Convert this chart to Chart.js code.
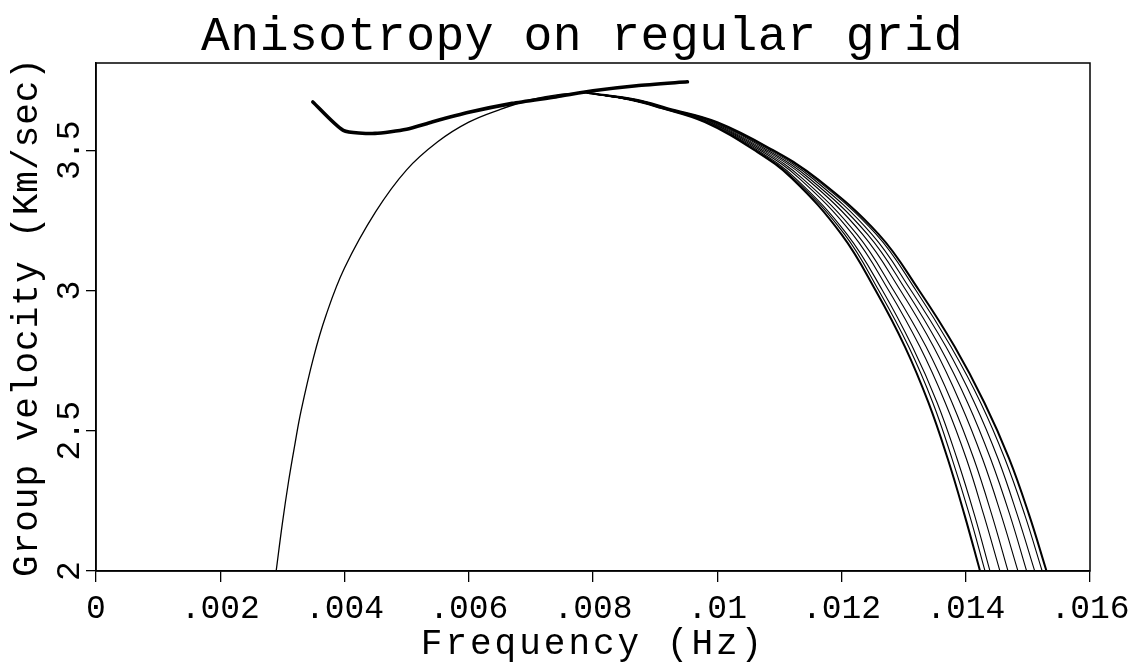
<!DOCTYPE html>
<html>
<head>
<meta charset="utf-8">
<title>Anisotropy on regular grid</title>
<script src="https://cdn.jsdelivr.net/npm/chart.js@4.4.0/dist/chart.umd.min.js"></script>
<style>
  html, body { margin: 0; padding: 0; background: #fff; }
  #wrap { width: 1132px; height: 666px; position: relative; }
</style>
</head>
<body>
<div id="wrap"><canvas id="chartjs"></canvas></div>
<script>
const ctx = document.getElementById("chartjs");

// axis ticks
const xTicks = [0, 0.002, 0.004, 0.006, 0.008, 0.010, 0.012, 0.014, 0.016];
const xTickLabels = ["0", ".002", ".004", ".006", ".008", ".01", ".012", ".014", ".016"];
const yTicks = [2, 2.5, 3, 3.5];
const yTickLabels = ["2", "2.5", "3", "3.5"];

// rising branch shared by all curves (frequency Hz, group velocity km/s)
const riseFreq = [0.0029, 0.0030, 0.0031, 0.0032, 0.0033, 0.0035, 0.0037, 0.0040, 0.0045, 0.0050, 0.0055, 0.0060, 0.0065, 0.0070, 0.0075, 0.0079];
const riseVel = [2.00, 2.17, 2.32, 2.45, 2.57, 2.76, 2.91, 3.08, 3.28, 3.43, 3.53, 3.60, 3.645, 3.68, 3.70, 3.705];

// falling branches: frequency at which each curve reaches these velocities
const fallVel = [3.705, 3.68, 3.65, 3.60, 3.50, 3.40, 3.20, 3.00, 2.80, 2.60, 2.40, 2.20, 2.00];
const fallFreq0 = [0.0079, 0.0086, 0.0091, 0.0098, 0.0106, 0.0112, 0.0120, 0.01255, 0.01302, 0.01340, 0.01371, 0.01398, 0.01423];
const fallFreq1 = [0.0079, 0.0086, 0.0091, 0.00982, 0.01062, 0.01123, 0.01205, 0.01260, 0.01308, 0.01347, 0.01378, 0.01406, 0.01431];
const fallFreq2 = [0.0079, 0.0086, 0.00912, 0.00983, 0.01065, 0.01126, 0.01209, 0.01266, 0.01314, 0.01354, 0.01386, 0.01414, 0.01439];
const fallFreq3 = [0.0079, 0.0086, 0.00913, 0.00986, 0.01069, 0.01132, 0.01218, 0.01276, 0.01326, 0.01367, 0.01401, 0.01429, 0.01455];
const fallFreq4 = [0.0079, 0.0086, 0.00914, 0.00988, 0.01073, 0.01137, 0.01225, 0.01284, 0.01336, 0.01378, 0.01413, 0.01442, 0.01468];
const fallFreq5 = [0.0079, 0.0086, 0.00916, 0.00991, 0.01077, 0.01143, 0.01234, 0.01295, 0.01348, 0.01391, 0.01427, 0.01457, 0.01484];
const fallFreq6 = [0.0079, 0.0087, 0.00917, 0.00994, 0.01081, 0.01148, 0.01242, 0.01304, 0.01358, 0.01403, 0.01440, 0.01471, 0.01498];
const fallFreq7 = [0.0079, 0.0087, 0.00918, 0.00996, 0.01085, 0.01153, 0.01249, 0.01312, 0.01368, 0.01414, 0.01452, 0.01483, 0.01511];
const fallFreq8 = [0.0079, 0.0087, 0.00919, 0.00999, 0.01088, 0.01157, 0.01256, 0.01320, 0.01376, 0.01424, 0.01463, 0.01495, 0.01523];
const fallFreq9 = [0.0079, 0.0087, 0.0092, 0.0100, 0.0109, 0.0116, 0.0126, 0.01325, 0.01382, 0.01430, 0.01470, 0.01502, 0.0153];

// measured curve (thick line)
const obsFreq = [0.00349, 0.00398, 0.00449, 0.0050, 0.0054, 0.0060, 0.0067, 0.0074, 0.0080, 0.0087, 0.00952];
const obsVel = [3.672, 3.571, 3.560, 3.575, 3.60, 3.635, 3.667, 3.69, 3.712, 3.73, 3.744];

const FONT = '"Liberation Mono", "DejaVu Sans Mono", monospace';

function pts(xs, ys) {
    return xs.map((x, i) => ({ x: x, y: ys[i] }));
}

const fallSets = [fallFreq0, fallFreq1, fallFreq2, fallFreq3, fallFreq4, fallFreq5, fallFreq6, fallFreq7, fallFreq8, fallFreq9];

const datasets = [{
    data: pts(riseFreq, riseVel),
    borderColor: '#000',
    borderWidth: 1.3,
    pointRadius: 0,
    tension: 0.4
}];
fallSets.forEach((f, i) => {
    datasets.push({
        data: pts(f, fallVel),
        borderColor: '#000',
        borderWidth: (i === 0 || i === fallSets.length - 1) ? 2 : 1.1,
        pointRadius: 0,
        tension: 0.4
    });
});
datasets.push({
    data: pts(obsFreq, obsVel),
    borderColor: '#000',
    borderWidth: 3.6,
    pointRadius: 0,
    tension: 0.2,
    borderJoinStyle: 'round',
    borderCapStyle: 'round'
});

// title, axis titles, rotated y tick labels and the closed frame
const extras = {
    id: 'extras',
    afterDraw(chart) {
        const c = chart.ctx;
        const area = chart.chartArea;
        const y = chart.scales.y;
        c.save();
        c.strokeStyle = '#000';
        c.lineWidth = 1.5;
        c.strokeRect(area.left, area.top, area.right - area.left, area.bottom - area.top);

        c.fillStyle = '#000';
        c.textAlign = 'center';
        c.textBaseline = 'alphabetic';
        c.letterSpacing = '0.5px';
        c.font = '48px ' + FONT;
        c.fillText('Anisotropy on regular grid', 582, 50);

        c.letterSpacing = '3px';
        c.font = '36px ' + FONT;
        c.fillText('Frequency (Hz)', (area.left + area.right) / 2, 654);

        c.save();
        c.letterSpacing = '1px';
        c.translate(37, (area.top + area.bottom) / 2);
        c.rotate(-Math.PI / 2);
        c.fillText('Group velocity (Km/sec)', 0, 0);
        c.restore();

        c.letterSpacing = '0px';
        c.font = '33px ' + FONT;
        yTicks.forEach((v, i) => {
            c.save();
            c.translate(79, y.getPixelForValue(v));
            c.rotate(-Math.PI / 2);
            c.fillText(yTickLabels[i], 0, 0);
            c.restore();
        });
        c.restore();
    }
};

const chart = new Chart(ctx, {
    type: 'line',
    data: { datasets: datasets },
    plugins: [extras],
    options: {
        responsive: true,
        maintainAspectRatio: false,
        animation: false,
        layout: { padding: { top: 63, right: 42, left: 0, bottom: 0 } },
        plugins: {
            legend: { display: false },
            tooltip: { enabled: false }
        },
        scales: {
            x: {
                type: 'linear',
                min: 0,
                max: 0.016,
                afterBuildTicks: s => { s.ticks = xTicks.map(v => ({ value: v })); },
                afterFit: s => { s.height = 95; s.paddingLeft = 0; s.paddingRight = 0; },
                grid: { display: true, drawOnChartArea: false, drawTicks: true, tickLength: 11, color: '#000', lineWidth: 1.3 },
                border: { display: true, color: '#000', width: 1.5 },
                ticks: {
                    color: '#000',
                    padding: 7,
                    maxRotation: 0,
                    autoSkip: false,
                    font: { family: FONT, size: 33 },
                    callback: (v, i) => xTickLabels[i]
                }
            },
            y: {
                type: 'linear',
                min: 2,
                max: 3.811,
                afterBuildTicks: s => { s.ticks = yTicks.map(v => ({ value: v })); },
                afterFit: s => { s.width = 96; s.paddingTop = 0; s.paddingBottom = 0; },
                grid: { display: true, drawOnChartArea: false, drawTicks: true, tickLength: 10, color: '#000', lineWidth: 1.3 },
                border: { display: true, color: '#000', width: 1.5 },
                ticks: {
                    color: 'rgba(0,0,0,0)',
                    font: { family: FONT, size: 33 },
                    callback: (v, i) => yTickLabels[i]
                }
            }
        }
    }
});
</script>
</body>
</html>
